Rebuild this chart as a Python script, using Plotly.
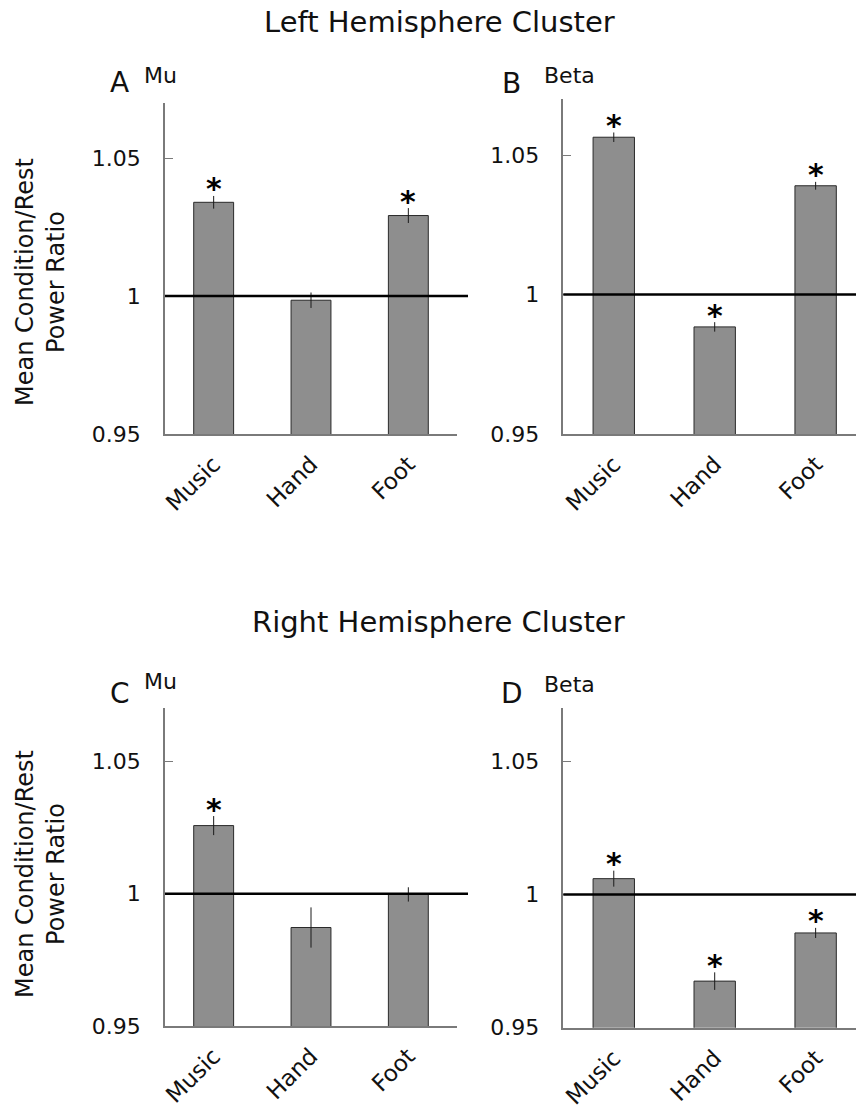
import plotly.graph_objects as go

# ---------------- data ----------------
categories = ["Music", "Hand", "Foot"]

a_mu_vals = [1.034, 0.9985, 1.0292]
a_mu_errs = [0.0023, 0.0028, 0.0027]
a_mu_sig = [True, False, True]

b_beta_vals = [1.0564, 0.9884, 1.039]
b_beta_errs = [0.0017, 0.0017, 0.0014]
b_beta_sig = [True, True, True]

c_mu_vals = [1.0257, 0.9872, 0.9997]
c_mu_errs = [0.0036, 0.0076, 0.0027]
c_mu_sig = [True, False, False]

d_beta_vals = [1.006, 0.9675, 0.9856]
d_beta_errs = [0.003, 0.0033, 0.0019]
d_beta_sig = [True, True, True]

y_ticks = [0.95, 1.0, 1.05]
y_ticktext = ["0.95", "1", "1.05"]
reference_value = 1.0

# ---------------- layout helpers ----------------
W, H = 856, 1112
FONT = "DejaVu Sans"
AXIS_GRAY = "#7a7a7a"
TEXT = "#111111"


def fx(p):
    return p / W


def fy(p):
    return 1 - p / H


panels = [
    dict(letter="A", band="Mu", vals=a_mu_vals, errs=a_mu_errs, sig=a_mu_sig,
         xdom=(165, 457), ydom=(103, 434), xr=[-0.5, 2.5], ref_end=468,
         letter_pos=(120, 82.5), band_pos=(142, 75.5)),
    dict(letter="B", band="Beta", vals=b_beta_vals, errs=b_beta_errs, sig=b_beta_sig,
         xdom=(563.3, 856), ydom=(99.3, 434), xr=[-0.5, 2.4], ref_end=856,
         letter_pos=(511, 84), band_pos=(542, 75)),
    dict(letter="C", band="Mu", vals=c_mu_vals, errs=c_mu_errs, sig=c_mu_sig,
         xdom=(165, 457), ydom=(708.3, 1026), xr=[-0.5, 2.5], ref_end=468,
         letter_pos=(120, 693), band_pos=(142, 681.5)),
    dict(letter="D", band="Beta", vals=d_beta_vals, errs=d_beta_errs, sig=d_beta_sig,
         xdom=(563.3, 856), ydom=(708.3, 1027.7), xr=[-0.5, 2.4], ref_end=856,
         letter_pos=(512, 693), band_pos=(542, 685)),
]

fig = go.Figure()
layout = dict(
    template="none",
    width=W, height=H,
    margin=dict(l=0, r=0, t=0, b=0, autoexpand=False),
    paper_bgcolor="white", plot_bgcolor="white",
    showlegend=False,
    font=dict(family=FONT, color=TEXT),
)
annotations = []
shapes = []

for i, p in enumerate(panels, start=1):
    xa = f"x{i}" if i > 1 else "x"
    ya = f"y{i}" if i > 1 else "y"
    xkey = f"xaxis{i}" if i > 1 else "xaxis"
    ykey = f"yaxis{i}" if i > 1 else "yaxis"

    fig.add_trace(go.Bar(
        x=list(range(len(categories))), y=p["vals"],
        width=0.41,
        marker=dict(color="#8e8e8e", line=dict(color="#2a2a2a", width=1)),
        error_y=dict(type="data", array=p["errs"], visible=True,
                     color="#1a1a1a", thickness=1, width=0),
        xaxis=xa, yaxis=ya,
    ))

    layout[xkey] = dict(
        domain=[fx(p["xdom"][0]), fx(p["xdom"][1])],
        anchor=ya, range=p["xr"], automargin=False,
        tickmode="array", tickvals=list(range(len(categories))), ticktext=categories,
        tickangle=-45, ticks="", showgrid=False, zeroline=False,
        showline=True, linecolor=AXIS_GRAY, linewidth=1.5,
        tickfont=dict(family=FONT, size=23, color=TEXT),
        ticklabelstandoff=6,
        fixedrange=True,
    )
    layout[ykey] = dict(
        domain=[fy(p["ydom"][1]), fy(p["ydom"][0])],
        anchor=xa, range=[0.95, 1.07], automargin=False,
        tickmode="array", tickvals=y_ticks, ticktext=y_ticktext,
        ticks="inside", ticklen=8, tickcolor=AXIS_GRAY, tickwidth=1,
        showgrid=False, zeroline=False,
        showline=True, linecolor=AXIS_GRAY, linewidth=1.5,
        tickfont=dict(family=FONT, size=22, color=TEXT),
        ticklabelstandoff=18,
        fixedrange=True,
    )

    # reference line at 1
    shapes.append(dict(
        type="line", xref="paper", yref=ya,
        x0=fx(p["xdom"][0]), x1=fx(p["ref_end"]),
        y0=reference_value, y1=reference_value,
        line=dict(color="black", width=2.5), layer="above",
    ))

    # significance stars
    for j, (v, e, s) in enumerate(zip(p["vals"], p["errs"], p["sig"])):
        if s:
            annotations.append(dict(
                x=j, y=v + e, xref=xa, yref=ya, text="<b>*</b>", showarrow=False,
                xanchor="center", yanchor="middle", yshift=7,
                font=dict(family=FONT, size=30, color="#000000"),
            ))

    # panel letter and band name
    annotations.append(dict(
        x=fx(p["letter_pos"][0]), y=fy(p["letter_pos"][1]), xref="paper", yref="paper",
        text=p["letter"], showarrow=False, xanchor="center", yanchor="middle",
        font=dict(family=FONT, size=28, color=TEXT),
    ))
    annotations.append(dict(
        x=fx(p["band_pos"][0]), y=fy(p["band_pos"][1]), xref="paper", yref="paper",
        text=p["band"], showarrow=False, xanchor="left", yanchor="middle",
        font=dict(family=FONT, size=22, color=TEXT),
    ))

# y-axis titles
for yc in (282, 874):
    annotations.append(dict(
        x=fx(40), y=fy(yc), xref="paper", yref="paper",
        text="Mean Condition/Rest<br>Power Ratio", showarrow=False,
        textangle=-90, xanchor="center", yanchor="middle",
        font=dict(family=FONT, size=24, color=TEXT),
    ))

# group titles
annotations.append(dict(
    x=fx(440), y=fy(22), xref="paper", yref="paper",
    text="Left Hemisphere Cluster", showarrow=False,
    xanchor="center", yanchor="middle",
    font=dict(family=FONT, size=29, color=TEXT),
))
annotations.append(dict(
    x=fx(438), y=fy(622), xref="paper", yref="paper",
    text="Right Hemisphere Cluster", showarrow=False,
    xanchor="center", yanchor="middle",
    font=dict(family=FONT, size=29, color=TEXT),
))

layout["annotations"] = annotations
layout["shapes"] = shapes
fig.update_layout(**layout)

fig.write_html(
    "out.html",
    config={"displayModeBar": False},
    post_script="document.body.style.margin='0';document.body.style.padding='0';",
)
